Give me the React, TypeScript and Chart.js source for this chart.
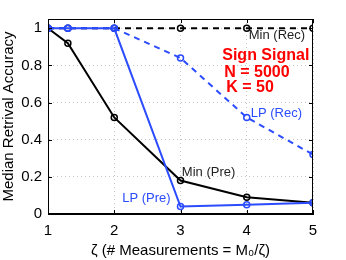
import React, { useEffect, useRef } from "react";
import { Chart, registerables } from "chart.js";
Chart.register(...registerables);

const xValues = [1, 1.3, 2, 3, 4, 5];
const lpPre = [1, 1, 1, 0.04, 0.05, 0.06];
const lpRec = [1, 1, 1, 0.84, 0.52, 0.32];
const minPre = [1, 0.92, 0.52, 0.18, 0.09, 0.06];
const minRec = [1, 1, 1, 1, 1, 1];
const yTicks = [0, 0.2, 0.4, 0.6, 0.8, 1];
const xTicks = [1, 2, 3, 4, 5];

const labels = [
  { text: "Min (Rec)", x: 4.03, y: 0.962, color: "#222", font: "13px 'Liberation Sans', Arial" },
  { text: "Sign Signal", x: 3.63, y: 0.855, color: "#ff0000", font: "bold 16px 'Liberation Sans', Arial" },
  { text: "N = 5000", x: 3.66, y: 0.763, color: "#ff0000", font: "bold 16px 'Liberation Sans', Arial" },
  { text: "K = 50", x: 3.69, y: 0.683, color: "#ff0000", font: "bold 16px 'Liberation Sans', Arial" },
  { text: "LP (Rec)", x: 4.06, y: 0.543, color: "#2b4bff", font: "13px 'Liberation Sans', Arial" },
  { text: "Min (Pre)", x: 3.02, y: 0.226, color: "#222", font: "13px 'Liberation Sans', Arial" },
  { text: "LP (Pre)", x: 2.12, y: 0.086, color: "#2b4bff", font: "13px 'Liberation Sans', Arial" },
];

const BLUE = "#2b4bff";

export default function App() {
  const ref = useRef<HTMLCanvasElement>(null);
  useEffect(() => {
    document.body.style.margin = "0";
    const pts = (ys: number[]) => xValues.map((x, i) => ({ x, y: ys[i] }));
    const common = { pointStyle: "circle", pointRadius: 3, pointBorderWidth: 1.5, pointBackgroundColor: "rgba(0,0,0,0)", borderWidth: 2, tension: 0 };
    const framePlugin = {
      id: "frame",
      afterDraw(chart: any) {
        const { ctx, chartArea: a, scales } = chart;
        ctx.save();
        ctx.strokeStyle = "#000";
        ctx.lineWidth = 1;
        ctx.strokeRect(a.left + 0.5, a.top + 0.5, a.right - a.left - 1, a.bottom - a.top - 1);
        xTicks.forEach((v) => {
          const px = Math.round(scales.x.getPixelForValue(v)) + 0.5;
          ctx.beginPath();
          ctx.moveTo(px, a.bottom); ctx.lineTo(px, a.bottom - 4);
          ctx.moveTo(px, a.top); ctx.lineTo(px, a.top + 4);
          ctx.stroke();
        });
        yTicks.forEach((v) => {
          const py = Math.round(scales.y.getPixelForValue(v)) + 0.5;
          ctx.beginPath();
          ctx.moveTo(a.left, py); ctx.lineTo(a.left + 4, py);
          ctx.moveTo(a.right, py); ctx.lineTo(a.right - 4, py);
          ctx.stroke();
        });
        ctx.textBaseline = "middle";
        ctx.textAlign = "left";
        labels.forEach((l) => {
          ctx.font = l.font;
          ctx.fillStyle = l.color;
          ctx.fillText(l.text, scales.x.getPixelForValue(l.x), scales.y.getPixelForValue(l.y));
        });
        ctx.restore();
      },
    };
    const chart = new Chart(ref.current!, {
      type: "line",
      data: {
        datasets: [
          { ...common, label: "LP (Pre)", data: pts(lpPre), borderColor: BLUE, pointBorderColor: BLUE },
          { ...common, label: "LP (Rec)", data: pts(lpRec), borderColor: BLUE, pointBorderColor: BLUE, borderDash: [6, 5] },
          { ...common, label: "Min (Pre)", data: pts(minPre), borderColor: "#000", pointBorderColor: "#000" },
          { ...common, label: "Min (Rec)", data: pts(minRec), borderColor: "#000", pointBorderColor: "#000", borderDash: [6, 5] },
        ] as any,
      },
      options: {
        responsive: false,
        animation: false,
        layout: { padding: { top: 19, right: 33, left: 0, bottom: 0 } },
        plugins: { legend: { display: false }, tooltip: { enabled: false } },
        scales: {
          x: {
            type: "linear",
            min: 1,
            max: 5,
            afterBuildTicks: (s: any) => { s.ticks = xTicks.map((v) => ({ value: v })); },
            afterFit: (s: any) => { s.height = 46; },
            ticks: { color: "#000", font: { family: "'Liberation Sans', Arial", size: 15 }, padding: 8, maxRotation: 0, callback: (v: any) => String(Math.round(v * 10) / 10) },
            grid: { color: "#c8c8c8", lineWidth: 1, drawTicks: false, tickLength: 0 },
            border: { color: "#000", dash: [1, 3], display: true },
            title: { display: true, text: "ζ (# Measurements = M₀/ζ)", color: "#000", font: { family: "'Liberation Sans', Arial", size: 15 }, padding: { top: 0, bottom: 0 } },
          },
          y: {
            type: "linear",
            min: 0,
            max: 1.05,
            afterBuildTicks: (s: any) => { s.ticks = yTicks.map((v) => ({ value: v })); },
            afterFit: (s: any) => { s.width = 48; },
            ticks: { color: "#000", font: { family: "'Liberation Sans', Arial", size: 15 }, padding: 6, callback: (v: any) => String(Math.round(v * 10) / 10) },
            grid: { color: "#c8c8c8", lineWidth: 1, drawTicks: false, tickLength: 0 },
            border: { color: "#000", dash: [1, 3] },
            title: { display: true, text: "Median Retrival Accuracy", color: "#000", font: { family: "'Liberation Sans', Arial", size: 15 }, padding: { top: 0, bottom: 0 } },
          },
        },
      },
      plugins: [framePlugin],
    } as any);
    return () => chart.destroy();
  }, []);
  return <canvas ref={ref} width={346} height={260} style={{ display: "block" }} />;
}
